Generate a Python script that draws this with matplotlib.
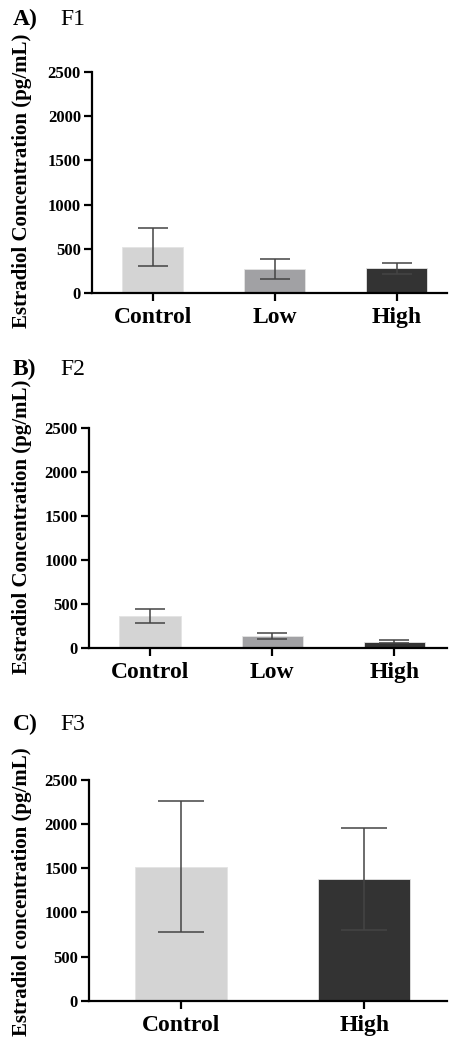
import numpy as np
import matplotlib.pyplot as plt

# values (mean and error in pg/mL)
groups_f1 = ['Control', 'Low', 'High']
mean_f1 = [520, 270, 280]
err_f1 = [215, 115, 60]

groups_f2 = ['Control', 'Low', 'High']
mean_f2 = [365, 133, 72]
err_f2 = [76, 33, 19]

groups_f3 = ['Control', 'High']
mean_f3 = [1520, 1380]
err_f3 = [740, 580]

col3 = ['#d4d4d4', '#a1a1a4', '#333333']
col2 = ['#d4d4d4', '#333333']

yticks = [0, 500, 1000, 1500, 2000, 2500]

plt.rcParams['font.family'] = ['Liberation Serif', 'DejaVu Serif']

fig = plt.figure(figsize=(4.51, 10.38), dpi=100)

panels = [
    # rect, groups, means, errs, colours, xmax, cap, letter, gen, ylabel, title y, ylabel y
    ([0.204, 0.7177, 0.787, 0.2129], groups_f1, mean_f1, err_f1, col3, 2.41, 11, 'A)', 'F1',
     'Estradiol Concentration (pg/mL)', 1 - 25 / 1038, 1 - 181 / 1038),
    ([0.197, 0.3757, 0.794, 0.2117], groups_f2, mean_f2, err_f2, col3, 2.43, 11, 'B)', 'F2',
     'Estradiol Concentration (pg/mL)', 1 - 375 / 1038, 1 - 527 / 1038),
    ([0.197, 0.0359, 0.794, 0.2126], groups_f3, mean_f3, err_f3, col2, 1.45, 16.5, 'C)', 'F3',
     'Estradiol concentration (pg/mL)', 1 - 730 / 1038, 1 - 892 / 1038),
]

for rect, groups, means, errs, cols, xmax, cap, letter, gen, ylab, ty, ly in panels:
    ax = fig.add_axes(rect)
    x = np.arange(len(groups))
    ax.bar(x, means, width=0.5, color=cols, edgecolor='#e4e4e4', linewidth=0.6, zorder=1)
    ax.errorbar(x, means, yerr=errs, fmt='none', ecolor='#444444',
                elinewidth=1.1, capsize=cap, capthick=1.1, zorder=3)
    ax.set_xlim(-0.5, xmax)
    ax.set_ylim(0, 2500)
    ax.set_yticks(yticks)
    ax.set_xticks(x)
    ax.set_xticklabels(groups, fontsize=17, fontweight='bold')
    for lab in ax.get_yticklabels():
        lab.set_fontsize(12)
        lab.set_fontweight('bold')
    ax.spines['top'].set_visible(False)
    ax.spines['right'].set_visible(False)
    ax.spines['left'].set_linewidth(1.6)
    ax.spines['bottom'].set_linewidth(1.6)
    ax.tick_params(axis='both', direction='out', length=6, width=1.6, pad=2)
    ax.tick_params(axis='x', pad=4)
    fig.text(22 / 451, ly, ylab, rotation=90, ha='center', va='center',
             fontsize=15, fontweight='bold')
    fig.text(13 / 451, ty, letter, fontsize=17, fontweight='bold', va='baseline')
    fig.text(60 / 451, ty, gen, fontsize=17, va='baseline')

fig.savefig('out.png', dpi=100)
